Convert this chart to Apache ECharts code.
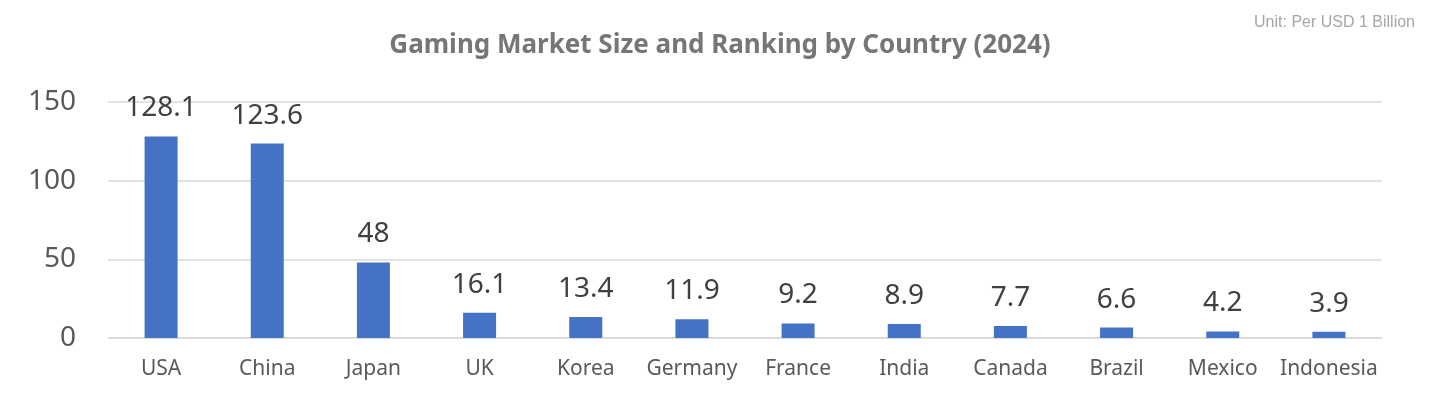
<!DOCTYPE html>
<html><head><meta charset="utf-8">
<script src="https://cdn.jsdelivr.net/npm/echarts@6/dist/echarts.min.js"></script>
<style>html,body{margin:0;padding:0;background:#fff}#c{width:1440px;height:396px}</style>
</head><body><div id="c"></div>
<script>
const categories = ["USA","China","Japan","UK","Korea","Germany","France","India","Canada","Brazil","Mexico","Indonesia"];
const values = [128.1,123.6,48,16.1,13.4,11.9,9.2,8.9,7.7,6.6,4.2,3.9];
const yTicks = [0,50,100,150];
const titleText = "Gaming Market Size and Ranking by Country (2024)";
const unitText = "Unit: Per USD 1 Billion";

const chart = echarts.init(document.getElementById('c'));
chart.setOption({
  animation:false,
  title:[{text:titleText,left:'center',top:28,textStyle:{fontFamily:'Noto Sans',fontSize:26,fontWeight:'bold',color:'#767676'}},
         {text:unitText,right:20,top:10,textStyle:{fontFamily:'Liberation Sans',fontSize:16,fontWeight:'normal',color:'#a6a6a6'}}],
  grid:{left:108,right:58,top:102,bottom:58},
  xAxis:{type:'category',data:categories,axisTick:{show:false},
    axisLine:{lineStyle:{color:'#d9d9d9',width:1.5}},
    axisLabel:{interval:0,fontFamily:'Noto Sans',fontSize:21,color:'#595959',margin:21}},
  yAxis:{type:'value',min:yTicks[0],max:yTicks[yTicks.length-1],interval:50,
    axisLine:{show:false},axisTick:{show:false},
    splitLine:{lineStyle:{color:'#d9d9d9',width:1.5}},
    axisLabel:{fontFamily:'Noto Sans',fontSize:28,color:'#595959',margin:32}},
  series:[{type:'bar',data:values,barWidth:33,itemStyle:{color:'#4472C4'},
    label:{show:true,position:'top',distance:14,fontFamily:'Noto Sans',fontSize:28,color:'#404040'}}]
});
</script></body></html>
